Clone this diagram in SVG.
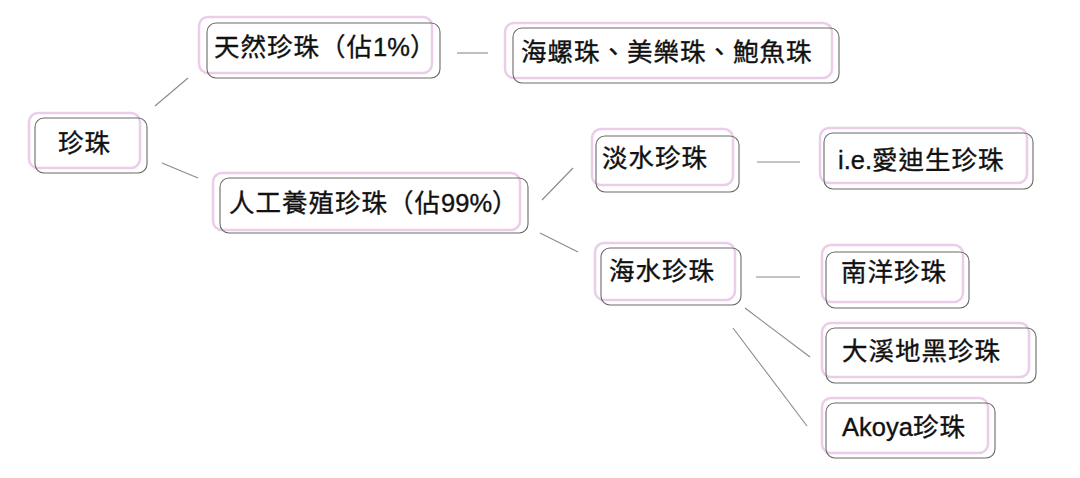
<svg xmlns="http://www.w3.org/2000/svg" width="1080" height="478" viewBox="0 0 1080 478">
<style>
.pk{fill:none;stroke:#ebcdea;stroke-width:2.5}
.gr{fill:none;stroke:#6a6a6a;stroke-width:1.1}
.t{font-family:"Liberation Sans","Noto Sans CJK TC",sans-serif;font-size:25.5px;letter-spacing:1px;fill:#111;stroke:#111;stroke-width:0.35}
.l{letter-spacing:0px}
.c line{stroke:#8a8a8a;stroke-width:1.1}
</style>
<rect width="1080" height="478" fill="#ffffff"/>
<g class="c" id="connectors">
<line x1="155" y1="106" x2="188" y2="78"/>
<line x1="162" y1="163" x2="198" y2="178"/>
<line x1="457" y1="53" x2="488" y2="53"/>
<line x1="542" y1="200" x2="573" y2="168"/>
<line x1="540" y1="233" x2="578" y2="252"/>
<line x1="757" y1="162" x2="800" y2="162"/>
<line x1="756" y1="277" x2="800" y2="277"/>
<line x1="745" y1="308" x2="810" y2="357"/>
<line x1="733" y1="328" x2="807" y2="426"/>
</g>
<g id="n-root">
<rect class="pk" x="29" y="113" width="111" height="55" rx="9"/>
<rect class="gr" x="35" y="118" width="112" height="55" rx="9"/>
<text class="t" x="58" y="152">珍珠</text>
</g>
<g id="n-natural">
<rect class="pk" x="199" y="17" width="233" height="56" rx="9"/>
<rect class="gr" x="207" y="23" width="233" height="55" rx="9"/>
<text class="t" x="214" y="55.5">天然珍珠（佔<tspan class="l">1%</tspan>）</text>
</g>
<g id="n-natural-kinds">
<rect class="pk" x="505" y="23" width="327" height="55" rx="9"/>
<rect class="gr" x="513" y="28" width="326" height="55" rx="9"/>
<text class="t" x="521" y="60.5">海螺珠、美樂珠、鮑魚珠</text>
</g>
<g id="n-cultured">
<rect class="pk" x="213" y="173" width="307" height="57" rx="9"/>
<rect class="gr" x="220" y="178" width="308" height="55" rx="9"/>
<text class="t" x="229" y="212">人工養殖珍珠（佔<tspan class="l">99%</tspan>）</text>
</g>
<g id="n-freshwater">
<rect class="pk" x="592" y="129" width="141" height="56" rx="9"/>
<rect class="gr" x="596" y="136" width="143" height="56" rx="9"/>
<text class="t" x="602" y="167">淡水珍珠</text>
</g>
<g id="n-edison">
<rect class="pk" x="820" y="128" width="207" height="55" rx="9"/>
<rect class="gr" x="824" y="133" width="209" height="56" rx="9"/>
<text class="t" x="838" y="168.5"><tspan class="l">i.e.</tspan>愛迪生珍珠</text>
</g>
<g id="n-seawater">
<rect class="pk" x="595" y="243" width="140" height="57" rx="9"/>
<rect class="gr" x="601" y="248" width="140" height="57" rx="9"/>
<text class="t" x="609" y="279.5">海水珍珠</text>
</g>
<g id="n-southsea">
<rect class="pk" x="822" y="245" width="141" height="57" rx="9"/>
<rect class="gr" x="826" y="252" width="143" height="56" rx="9"/>
<text class="t" x="841" y="281">南洋珍珠</text>
</g>
<g id="n-tahiti">
<rect class="pk" x="822" y="323" width="207" height="54" rx="9"/>
<rect class="gr" x="826" y="328" width="210" height="55" rx="9"/>
<text class="t" x="842" y="359.5">大溪地黑珍珠</text>
</g>
<g id="n-akoya">
<rect class="pk" x="822" y="398" width="166" height="55" rx="9"/>
<rect class="gr" x="826" y="403" width="169" height="55" rx="9"/>
<text class="t" x="842" y="436"><tspan class="l">Akoya</tspan>珍珠</text>
</g>
</svg>
